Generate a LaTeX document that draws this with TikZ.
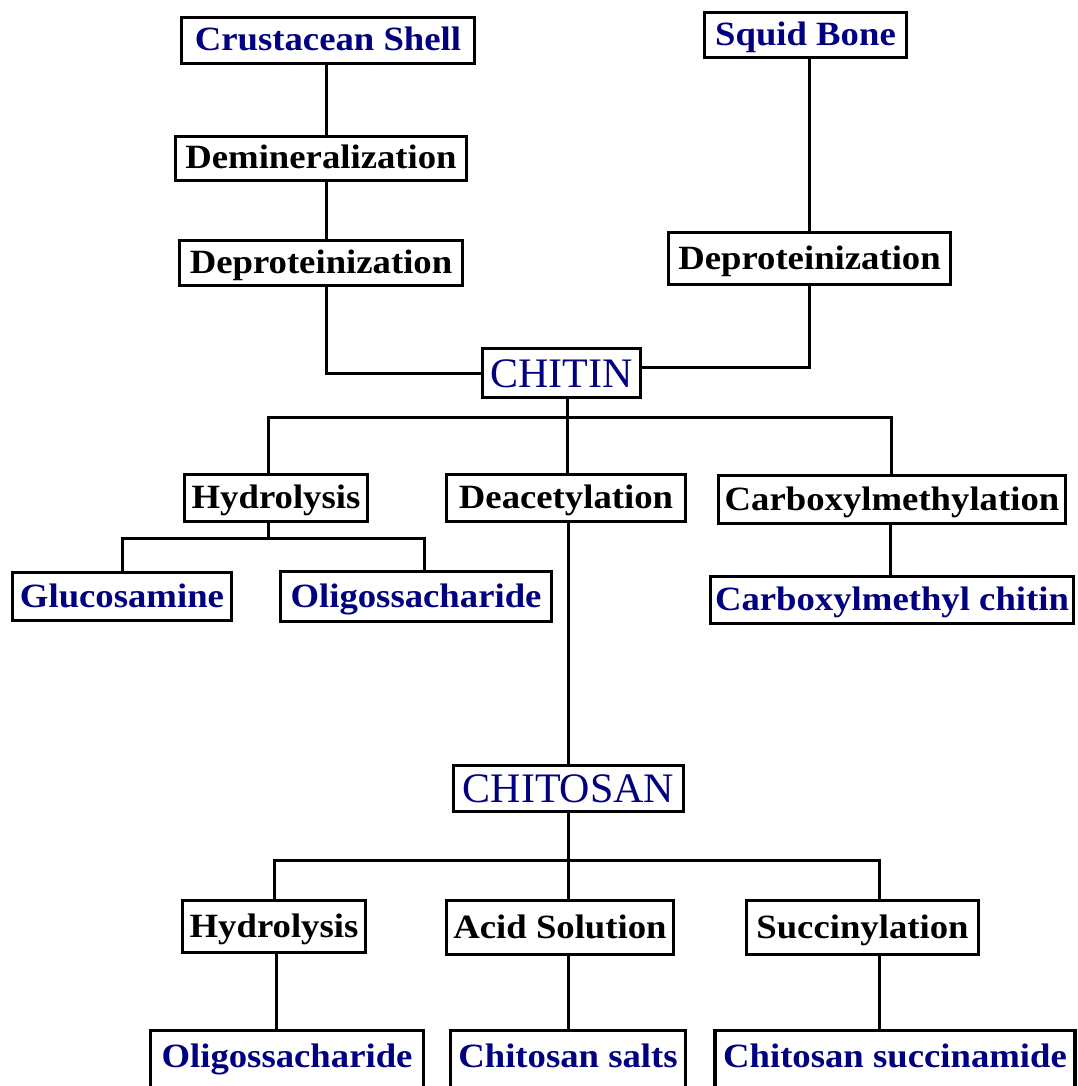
\documentclass[tikz,border=0pt]{standalone}
\usepackage{fontspec}
\setmainfont{Liberation Serif}
\usepackage{graphicx}
\definecolor{navyc}{RGB}{0,0,128}
\newcommand\sx[1]{\scalebox{1.08}[1]{#1}}
\begin{document}
\begin{tikzpicture}[x=1pt,y=-1pt,
 box/.style={draw, line width=3.5pt, fill=white, inner sep=0pt, text height=24pt, text depth=3pt, font=\bfseries\fontsize{34}{40}\selectfont},
 prod/.style={box, text=navyc},
 lowbox/.style={prod, text depth=11pt},
 mainbox/.style={draw, line width=3.5pt, fill=white, inner sep=0pt, text=navyc, text height=28pt, text depth=0pt, font=\fontsize{42}{48}\selectfont},
 conn/.style={line width=3pt, line join=miter}]
\useasboundingbox[fill=white] (0,0) rectangle (1077,1086);

% top
\node[prod, minimum width=293pt, minimum height=46pt] (cs) at (328,40.5) {\sx{Crustacean Shell}};
\node[box, minimum width=291pt, minimum height=44pt] (dm) at (321,158.5) {\sx{Demineralization}};
\node[box, minimum width=283pt, minimum height=45pt] (dpL) at (321,263) {\sx{Deproteinization}};
\node[prod, minimum width=202pt, minimum height=45pt] (sb) at (805.5,35) {\sx{Squid Bone}};
\node[box, minimum width=282pt, minimum height=52pt] (dpR) at (809.5,258.5) {\sx{Deproteinization}};
\node[mainbox, minimum width=158pt, minimum height=49pt] (chitin) at (561.5,373) {CHITIN};

% chitin products
\node[box, minimum width=183pt, minimum height=47pt] (hy1) at (276,498) {\sx{Hydrolysis}};
\node[box, minimum width=239pt, minimum height=47pt] (de) at (566,498) {\sx{Deacetylation}};
\node[box, minimum width=347pt, minimum height=48pt] (cm) at (892,499.5) {\sx{Carboxylmethylation}};
\node[prod, minimum width=219pt, minimum height=48pt] (gl) at (122,596.5) {\sx{Glucosamine}};
\node[prod, minimum width=271pt, minimum height=50pt] (ol1) at (416,596.5) {\sx{Oligossacharide}};
\node[prod, minimum width=363pt, minimum height=47pt] (cmc) at (892,600) {\sx{Carboxylmethyl chitin}};

% chitosan
\node[mainbox, minimum width=230pt, minimum height=46pt] (chitosan) at (568.5,788.5) {CHITOSAN};
\node[box, minimum width=183pt, minimum height=52pt] (hy2) at (274,926.5) {\sx{Hydrolysis}};
\node[box, minimum width=227pt, minimum height=54pt] (ac) at (560,927.5) {\sx{Acid Solution}};
\node[box, minimum width=232pt, minimum height=54pt] (su) at (862.5,927.5) {\sx{Succinylation}};
\node[lowbox, minimum width=273pt, minimum height=60pt] (ol2) at (287,1060.5) {\sx{Oligossacharide}};
\node[lowbox, minimum width=235pt, minimum height=60pt] (cs2) at (568,1060.5) {\sx{Chitosan salts}};
\node[lowbox, minimum width=360pt, minimum height=60pt] (csu) at (895,1060.5) {\sx{Chitosan succinamide}};

% junction coordinates
\coordinate (jL) at (326,373);
\coordinate (jR) at (809,367);
\coordinate (b1) at (567,417);
\coordinate (b1L) at (268,417);
\coordinate (b1R) at (891,417);
\coordinate (b2) at (268,538);
\coordinate (b2L) at (122,538);
\coordinate (b2R) at (424,538);
\coordinate (v1) at (568,0);
\coordinate (v2) at (890,0);
\coordinate (b3) at (568,860);
\coordinate (b3L) at (274,860);
\coordinate (b3R) at (879,860);
\coordinate (v3) at (276,0);

% connectors
\draw[conn] (cs.south -| jL) -- (dm.north -| jL);
\draw[conn] (dm.south -| jL) -- (dpL.north -| jL);
\draw[conn] (dpL.south -| jL) -- (jL) -- (chitin.west |- jL);
\draw[conn] (sb.south -| jR) -- (dpR.north -| jR);
\draw[conn] (dpR.south -| jR) -- (jR) -- (chitin.east |- jR);
\draw[conn] (chitin.south -| b1) -- (b1);
\draw[conn] (hy1.north -| b1L) -- (b1L) -- (b1R) -- (cm.north -| b1R);
\draw[conn] (b1) -- (de.north -| b1);
\draw[conn] (hy1.south -| b2) -- (b2);
\draw[conn] (gl.north -| b2L) -- (b2L) -- (b2R) -- (ol1.north -| b2R);
\draw[conn] (de.south -| v1) -- (chitosan.north -| v1);
\draw[conn] (cm.south -| v2) -- (cmc.north -| v2);
\draw[conn] (chitosan.south -| b3) -- (b3);
\draw[conn] (hy2.north -| b3L) -- (b3L) -- (b3R) -- (su.north -| b3R);
\draw[conn] (b3) -- (ac.north -| b3);
\draw[conn] (hy2.south -| v3) -- (ol2.north -| v3);
\draw[conn] (ac.south -| b3) -- (cs2.north -| b3);
\draw[conn] (su.south -| b3R) -- (csu.north -| b3R);
\end{tikzpicture}
\end{document}
